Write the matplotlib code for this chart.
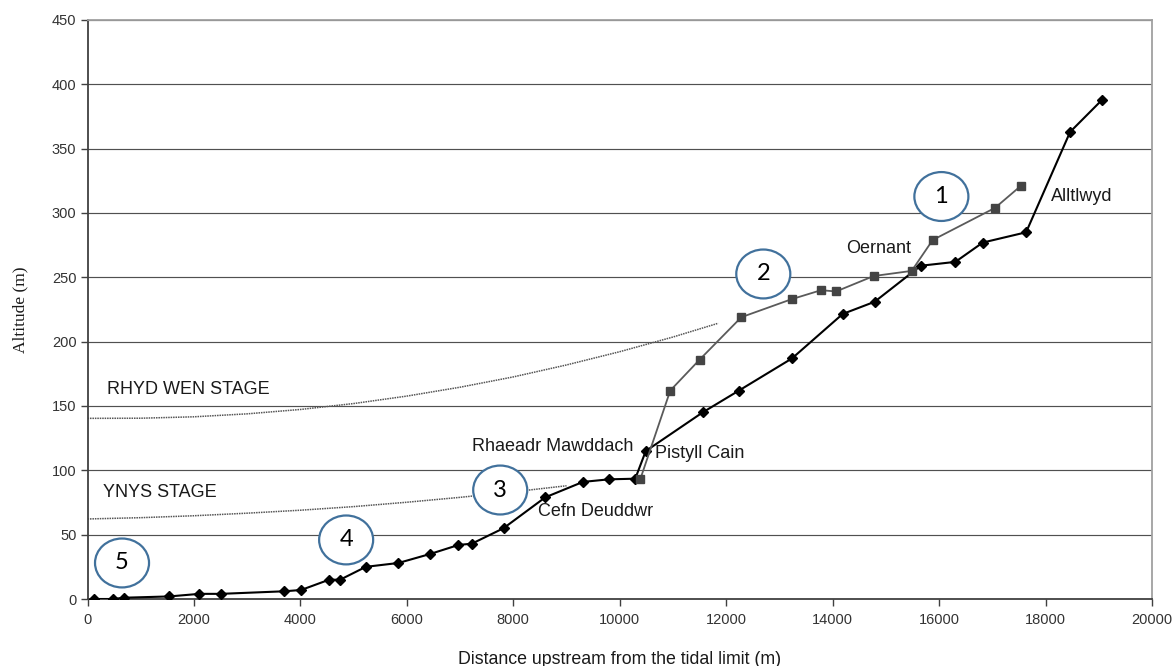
import matplotlib
matplotlib.use("Agg")
import matplotlib.pyplot as plt
from matplotlib.patches import Ellipse

# Main river long profile (black diamonds)
main_dist = [122, 474, 692, 1538, 2102, 2504, 3699, 4013, 4539, 4746, 5229, 5842,
             6438, 6970, 7221, 7816, 8600, 9308, 9797, 10291, 10489, 11557, 12240,
             13237, 14188, 14789, 15655, 16306, 16820, 17635, 18462, 19064]
main_alt = [0, 0, 1, 2, 4, 4, 6, 7, 15, 15, 25, 28, 35, 42, 43, 55, 79, 91, 93,
            93.5, 115, 145, 162, 187, 221.5, 231, 259, 262, 277, 285, 363, 388]

# Tributary profile (grey squares)
trib_dist = [10385, 10949, 11500, 12284, 13229, 13783, 14064, 14771, 15485, 15880,
             17052, 17534]
trib_alt = [93, 162, 186, 219, 233, 240, 239, 251, 255, 279, 304, 321]

# Terrace stage curves (dotted)
rhyd_dist = [0, 1000, 2000, 3000, 4000, 5000, 6000, 7000, 8000, 9000, 10000, 11000, 11850]
rhyd_alt = [140.4, 140.5, 141.6, 143.9, 147.3, 151.9, 157.7, 164.6, 172.6, 181.9,
            192.2, 203.6, 214.3]
ynys_dist = [0, 1000, 2000, 3000, 4000, 5000, 6000, 7000, 8000, 9000]
ynys_alt = [62.2, 63.2, 64.7, 66.7, 69.0, 71.8, 75.2, 79.0, 83.3, 88.0]

# Labels
site_labels = ["Oernant", "Alltlwyd", "Rhaeadr Mawddach", "Pistyll Cain", "Cefn Deuddwr"]
site_pos = [(14859, 272.6), (18682, 313.2), (8731, 118.4), (11500, 112.7), (9554, 67.8)]
stage_labels = ["RHYD WEN STAGE", "YNYS STAGE"]
stage_pos = [(361, 163), (297, 83)]
circle_labels = ["1", "2", "3", "4", "5"]
circle_pos = [(16043, 312.8), (12697, 252.6), (7754, 84.7), (4859, 45.9), (648, 28)]

x_ticks = list(range(0, 20001, 2000))
y_ticks = list(range(0, 451, 50))

fig = plt.figure(figsize=(11.75, 6.66), dpi=100)
ax = fig.add_axes([0.0745, 0.1006, 0.9059, 0.8694])
ax.set_xlim(0, 20000)
ax.set_ylim(0, 450)

for yv in y_ticks[1:]:
    ax.axhline(yv, color="#505050", lw=0.85, zorder=1)

ax.plot(rhyd_dist, rhyd_alt, color="#555555", lw=1.1, ls=(0, (1, 0.6)), zorder=2)
ax.plot(ynys_dist, ynys_alt, color="#555555", lw=1.1, ls=(0, (1, 0.6)), zorder=2)

ax.plot(main_dist, main_alt, color="black", lw=1.5, marker="D", markersize=5.5,
        markerfacecolor="black", markeredgecolor="black", zorder=4)
ax.plot(trib_dist, trib_alt, color="#5a5a5a", lw=1.3, marker="s", markersize=6,
        markerfacecolor="#444444", markeredgecolor="#444444", zorder=5)

for t, (x, y) in zip(site_labels, site_pos):
    ax.text(x, y, t, fontsize=13, family="Liberation Sans", color="#1a1a1a",
            ha="center", va="center", zorder=6)
for t, (x, y) in zip(stage_labels, stage_pos):
    ax.text(x, y, t, fontsize=13, family="Liberation Sans", color="#1a1a1a",
            ha="left", va="center", zorder=6)

for t, (x, y) in zip(circle_labels, circle_pos):
    e = Ellipse((x, y), width=1015, height=38, facecolor="white",
                edgecolor="#41719C", lw=1.6, zorder=7)
    ax.add_patch(e)
    ax.text(x, y, t, fontsize=17, family="Lato", color="black",
            ha="center", va="center", zorder=8)

ax.set_xticks(x_ticks)
ax.set_yticks(y_ticks)
ax.set_xticklabels([str(v) for v in x_ticks], fontsize=10.5, family="Liberation Sans",
                   color="#333333")
ax.set_yticklabels([str(v) for v in y_ticks], fontsize=10.5, family="Liberation Sans",
                   color="#333333")
ax.tick_params(axis="both", direction="out", length=5, width=1, color="#404040")
ax.tick_params(axis="x", pad=5)
ax.tick_params(axis="y", pad=3)

ax.spines["left"].set_color("#404040")
ax.spines["left"].set_linewidth(1.3)
ax.spines["bottom"].set_color("#404040")
ax.spines["bottom"].set_linewidth(1.3)
ax.spines["right"].set_color("#a0a0a0")
ax.spines["right"].set_linewidth(1.3)
ax.spines["top"].set_color("#a0a0a0")
ax.spines["top"].set_linewidth(1.3)

ax.set_xlabel("Distance upstream from the tidal limit (m)", fontsize=12.8,
              family="Liberation Sans", color="#1a1a1a", labelpad=17)
ax.set_ylabel("Altitude (m)", fontsize=12.5, family="Liberation Serif",
              color="#1a1a1a", labelpad=17)

fig.savefig("out.png", dpi=100, facecolor="white")
